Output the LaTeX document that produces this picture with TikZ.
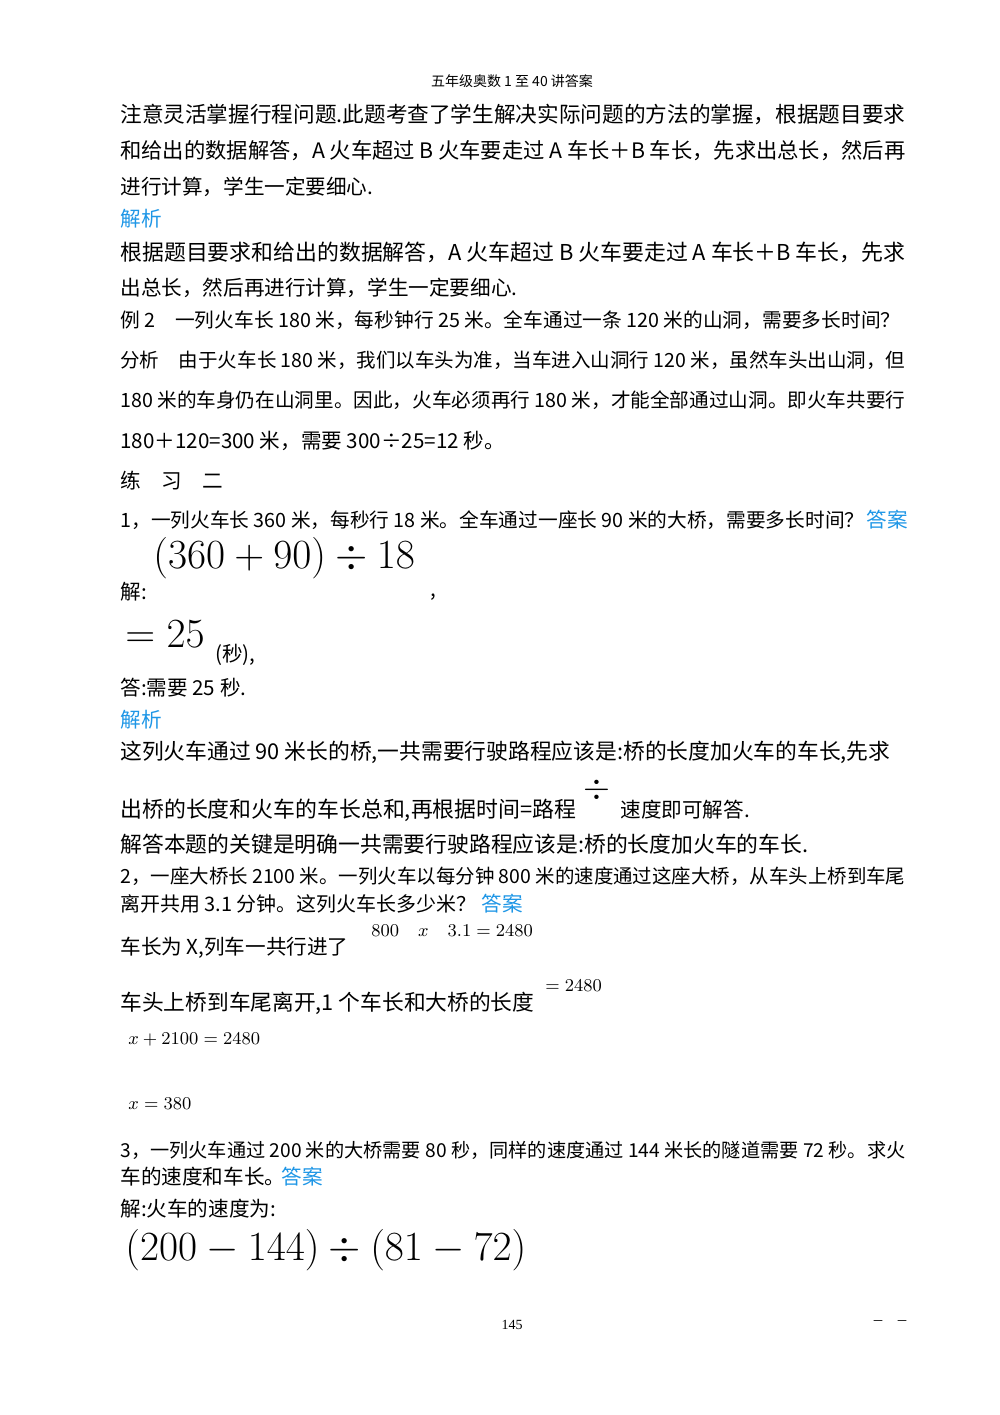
\documentclass[tikz,border=0pt]{standalone}
\usepackage{fontspec}
\usepackage{graphicx}
\setmainfont{Liberation Serif}
\newfontfamily\cjk{Noto Sans CJK SC}
\definecolor{lk}{RGB}{30,150,230}
\newcommand{\fw}[2]{\resizebox{#1pt}{!}{#2}}
\begin{document}
\begin{tikzpicture}[x=0.5pt,y=-0.5pt,
 t/.style={anchor=west,inner sep=0pt,font=\cjk\fontsize{10.3}{12}\selectfont},
 b/.style={t,text=lk},
 m/.style={anchor=west,inner sep=0pt}]
\useasboundingbox (0,0) rectangle (1000,1415);
\node[inner sep=0pt,font=\cjk\fontsize{7}{8}\selectfont] (h) at (512,81) {五年级奥数 1 至 40 讲答案};
\node[t] (l1) at (120,114) {\fw{392.5}{注意灵活掌握行程问题.此题考查了学生解决实际问题的方法的掌握，根据题目要求}};
\node[t] (l2) at (120,151) {\fw{392.5}{和给出的数据解答，A 火车超过 B 火车要走过 A 车长＋B 车长，先求出总长，然后再}};
\node[t] (l3) at (120,187) {进行计算，学生一定要细心.};
\node[b] (j1) at (120,219) {解析};
\node[t] (l4) at (120,252) {\fw{392.5}{根据题目要求和给出的数据解答，A 火车超过 B 火车要走过 A 车长＋B 车长，先求}};
\node[t] (l5) at (120,288) {出总长，然后再进行计算，学生一定要细心.};
\node[t] (l6) at (120,320) {\fw{390}{例 2\quad 一列火车长 180 米，每秒钟行 25 米。全车通过一条 120 米的山洞，需要多长时间？}};
\node[t] (l7) at (120,360) {\fw{392.5}{分析\quad 由于火车长 180 米，我们以车头为准，当车进入山洞行 120 米，虽然车头出山洞，但}};
\node[t] (l8) at (120,400) {\fw{392.5}{180 米的车身仍在山洞里。因此，火车必须再行 180 米，才能全部通过山洞。即火车共要行}};
\node[t] (l9) at (120,441) {180＋120=300 米，需要 300÷25=12 秒。};
\node[t] (l10) at (120,481) {练\quad 习\quad 二};
\node[t] (l11) at (120,520) {\fw{372}{1，一列火车长 360 米，每秒行 18 米。全车通过一座长 90 米的大桥，需要多长时间？}};
\node[b] (a1) at (866,520) {答案};
\node[m,font=\fontsize{21}{23}\selectfont] (e1) at (153,558) {$(360+90)\div18$};
\node[t] (l12) at (120,592) {解:};
\node[t] (c1) at (430,597) {,};
\node[m,font=\fontsize{22}{24}\selectfont] (e2) at (125,634) {$=25$};
\node[t] (s1) at (215,655) {(秒),};
\node[t] (l13) at (120,688) {答:需要 25 秒.};
\node[b] (j2) at (120,720) {解析};
\node[t] (l14) at (120,752) {\fw{385}{这列火车通过 90 米长的桥,一共需要行驶路程应该是:桥的长度加火车的车长,先求}};
\node[t] (l15) at (120,810) {\fw{228}{出桥的长度和火车的车长总和,再根据时间=路程}};
\node[m,font=\fontsize{18}{20}\selectfont] (d1) at (583,790) {$\div$};
\node[t] (l15b) at (620,810) {速度即可解答.};
\node[t] (l16) at (120,844) {\fw{344}{解答本题的关键是明确一共需要行驶路程应该是:桥的长度加火车的车长.}};
\node[t] (l17) at (120,876) {\fw{392.5}{2，一座大桥长 2100 米。一列火车以每分钟 800 米的速度通过这座大桥，从车头上桥到车尾}};
\node[t] (l18) at (120,904) {\fw{178}{离开共用 3.1 分钟。这列火车长多少米？}};
\node[b] (a2) at (481,904) {答案};
\node[m,font=\fontsize{9.5}{10}\selectfont] (e3) at (371,931) {$800\quad x\quad 3.1=2480$};
\node[t] (l19) at (120,948) {车长为 X,列车一共行进了};
\node[m,font=\fontsize{9.5}{10}\selectfont] (e4) at (545,986) {$=2480$};
\node[t] (l20) at (120,1003) {\fw{207}{车头上桥到车尾离开,1 个车长和大桥的长度}};
\node[m,font=\fontsize{9.5}{10}\selectfont] (e5) at (128,1040) {$x+2100=2480$};
\node[m,font=\fontsize{9.5}{10}\selectfont] (e6) at (128,1104) {$x=380$};
\node[t] (l21) at (120,1150) {\fw{392.5}{3，一列火车通过 200 米的大桥需要 80 秒，同样的速度通过 144 米长的隧道需要 72 秒。求火}};
\node[t] (l22) at (120,1177) {车的速度和车长。};
\node[b] (a3) at (281,1177) {答案};
\node[t] (l23) at (120,1209) {解:火车的速度为:};
\node[m,font=\fontsize{22}{24}\selectfont] (e7) at (125,1250) {$(200-144)\div(81-72)$};
\node[inner sep=0pt,font=\fontsize{7}{8}\selectfont] (p) at (512,1325) {145};
\node[inner sep=0pt,font=\cjk\fontsize{6}{7}\selectfont] (dd) at (890,1323) {－\quad －};
\end{tikzpicture}
\end{document}
